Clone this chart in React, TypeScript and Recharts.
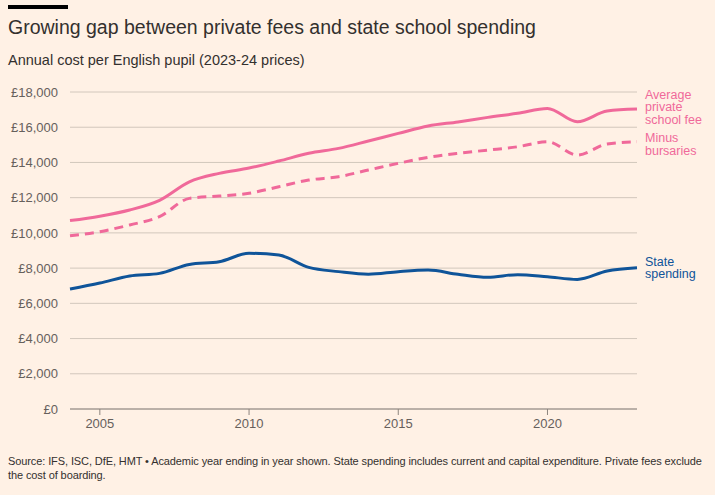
import React from 'react';
import { LineChart, Line, XAxis, YAxis, CartesianGrid } from 'recharts';

const years = [2004, 2005, 2006, 2007, 2008, 2009, 2010, 2011, 2012, 2013, 2014, 2015, 2016, 2017, 2018, 2019, 2020, 2021, 2022, 2023];
const privateFee = [10700, 10950, 11300, 11850, 12900, 13380, 13680, 14080, 14520, 14800, 15220, 15650, 16070, 16300, 16560, 16790, 17070, 16310, 16920, 17030];
const minusBursaries = [9840, 10070, 10450, 10920, 11960, 12090, 12250, 12620, 13000, 13190, 13570, 13950, 14290, 14520, 14700, 14890, 15180, 14420, 15050, 15180];
const stateSpending = [6810, 7150, 7550, 7700, 8210, 8360, 8840, 8740, 8040, 7800, 7650, 7800, 7890, 7650, 7480, 7630, 7510, 7360, 7840, 8020];

const yTicks = [0, 2000, 4000, 6000, 8000, 10000, 12000, 14000, 16000, 18000];
const xTicks = [2005, 2010, 2015, 2020];

const feeLabel = ['Average', 'private', 'school fee'];
const bursaryLabel = ['Minus', 'bursaries'];
const stateLabel = ['State', 'spending'];

const footerLines = [
  'Source: IFS, ISC, DfE, HMT • Academic year ending in year shown. State spending includes current and capital expenditure. Private fees exclude',
  'the cost of boarding.',
];

const data = years.map((year, i) => ({
  year,
  fee: privateFee[i],
  bursary: minusBursaries[i],
  state: stateSpending[i],
}));

const PINK = '#f0699a';
const BLUE = '#0f5499';
const BG = '#fff1e5';
const FONT = '"Liberation Sans", Arial, sans-serif';

const lastIndex = years.length - 1;

const makeLabel = (lines: string[], color: string, shift: number) => (props: any) => {
  const { x, y, index } = props;
  if (index !== lastIndex) return <g key={`l-${index}`} />;
  const lh = 12.5;
  const start = y + shift - ((lines.length - 1) * lh) / 2;
  return (
    <text key={`l-${index}`} x={x + 8} y={start} fill={color} fontSize={12.5} fontFamily={FONT} dominantBaseline="central">
      {lines.map((t, i) => (
        <tspan key={i} x={x + 8} y={start + i * lh}>{t}</tspan>
      ))}
    </text>
  );
};

export default function App() {
  return (
    <div style={{ position: 'absolute', left: 0, top: 0, width: 715, height: 495, background: BG, fontFamily: FONT, overflow: 'hidden' }}>
      <div style={{ position: 'absolute', left: 8, top: 5, width: 60, height: 4, background: '#000' }} />
      <div style={{ position: 'absolute', left: 8, top: 15, fontSize: 19.5, lineHeight: '24px', color: '#33302e', whiteSpace: 'nowrap' }}>
        Growing gap between private fees and state school spending
      </div>
      <div style={{ position: 'absolute', left: 8, top: 51, fontSize: 14.5, lineHeight: '18px', color: '#33302e', whiteSpace: 'nowrap' }}>
        Annual cost per English pupil (2023-24 prices)
      </div>
      <div style={{ position: 'absolute', left: 0, top: 0 }}>
        <LineChart width={715} height={445} data={data} margin={{ top: 92, right: 78, left: 0, bottom: 6 }}>
          <CartesianGrid vertical={false} stroke="#d2c7bc" strokeWidth={1} />
          <XAxis
            dataKey="year"
            type="number"
            domain={[2004, 2023]}
            ticks={xTicks}
            height={30}
            axisLine={{ stroke: '#8c847e' }}
            tickLine={{ stroke: '#8c847e' }}
            tickSize={6}
            tickMargin={4}
            tick={{ fill: '#66605c', fontSize: 13, fontFamily: FONT }}
          />
          <YAxis
            domain={[0, 18000]}
            ticks={yTicks}
            width={70}
            axisLine={false}
            tickLine={false}
            tickMargin={6}
            tickFormatter={(v: number) => `£${v.toLocaleString('en-GB')}`}
            tick={{ fill: '#66605c', fontSize: 13, fontFamily: FONT }}
          />
          <Line type="monotone" dataKey="state" stroke={BLUE} strokeWidth={3} dot={false} isAnimationActive={false} label={makeLabel(stateLabel, BLUE, 0)} />
          <Line type="monotone" dataKey="bursary" stroke={PINK} strokeWidth={3} strokeDasharray="9 6" dot={false} isAnimationActive={false} label={makeLabel(bursaryLabel, PINK, 3)} />
          <Line type="monotone" dataKey="fee" stroke={PINK} strokeWidth={3} dot={false} isAnimationActive={false} label={makeLabel(feeLabel, PINK, -2)} />
        </LineChart>
      </div>
      <div style={{ position: 'absolute', left: 8, top: 454, fontSize: 11, lineHeight: '14px', color: '#33302e', whiteSpace: 'nowrap', letterSpacing: '-0.1px' }}>
        {footerLines.map((t, i) => (
          <div key={i}>{t}</div>
        ))}
      </div>
    </div>
  );
}
